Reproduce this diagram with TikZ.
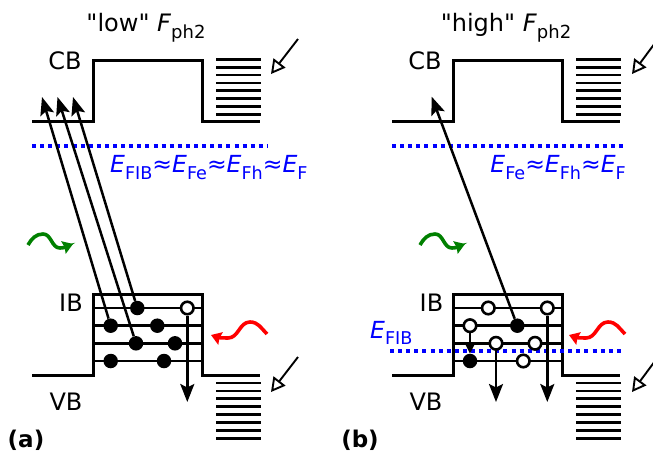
\documentclass[tikz,border=0pt]{standalone}
\usepackage{fontspec}
\usepackage{graphicx}
\newfontfamily\djv{DejaVu Sans}
\usetikzlibrary{arrows.meta}
\newcommand{\lsub}[1]{\raisebox{-0.28em}{\scalebox{0.75}{#1}}}
\definecolor{wgreen}{RGB}{0,128,0}
\begin{document}
\begin{tikzpicture}[x=1pt,y=1pt,
  band/.style={line width=3pt, line join=miter},
  ibline/.style={line width=2.7pt},
  hatch/.style={line width=2.7pt},
  fdot/.style={circle, fill=black, inner sep=0pt, minimum size=14.5pt},
  odot/.style={circle, draw=black, fill=white, line width=2.6pt, inner sep=0pt, minimum size=12.5pt},
  trans/.style={line width=2.5pt, -{Stealth[length=18pt,width=14pt,inset=3.5pt]}},
  smallarr/.style={line width=2.5pt, -{Stealth[length=11pt,width=11pt,inset=2pt]}},
  inarrow/.style={line width=1.9pt, -{Triangle[open,length=14pt,width=15pt]}},
  efl/.style={blue, line width=4pt, dash pattern=on 4pt off 4.1pt},
  wave/.style={line width=3.6pt, -{Stealth[length=10pt,width=13pt,inset=1pt]}},
  lbl/.style={font=\djv\fontsize{24}{28}\selectfont, anchor=base, inner sep=0pt},
  etxt/.style={font=\djv\fontsize{23.5}{28}\selectfont, text=blue, inner sep=0pt},
  plab/.style={font=\djv\bfseries\fontsize{23}{27}\selectfont, anchor=base, inner sep=0pt}
]
\useasboundingbox (0,0) rectangle (653,-451);
\clip (0,0) rectangle (653,-451);

% band structure, both panels
\foreach \s in {0,360}{
  \begin{scope}[xshift=\s pt]
    \draw[band] (32,-121) -- (93,-121) -- (93,-60) -- (202,-60) -- (202,-121) -- (260,-121);
    \draw[band] (32,-375) -- (93,-375) -- (93,-294) -- (202,-294) -- (202,-375) -- (260,-375);
    \foreach \y in {308,325.7,343.3,361} \draw[ibline] (93,-\y) -- (202,-\y);
    \foreach \k in {0,...,7} {
      \draw[hatch] (216,-59.3-7.86*\k) -- (261,-59.3-7.86*\k);
      \draw[hatch] (216,-383-7.9*\k) -- (261,-383-7.9*\k);
    }
  \end{scope}
}

% ---------- panel (a) ----------
\node[lbl] (ttla) at (146,-31.7) {"low" \textit{F}\lsub{ph2}};
\node[lbl] (cba) at (65,-69.3) {CB};
\node[lbl] (iba) at (71,-311.7) {IB};
\node[lbl] (vba) at (66,-410) {VB};
\node[plab] (pa) at (26,-447) {(a)};

\draw[efl] (32,-146) -- (267,-146);
\node[etxt, anchor=base west] (efa) at (110,-172.7)
  {\textit{E}\lsub{FIB}≈\textit{E}\lsub{Fe}≈\textit{E}\lsub{Fh}≈\textit{E}\lsub{F}};

\node[fdot] (a1) at (137.3,-308) {};
\node[fdot] (a2) at (110.7,-325.7) {};
\node[fdot] (a3) at (157.3,-325.7) {};
\node[fdot] (a4) at (136,-343.3) {};
\node[fdot] (a5) at (175,-343.3) {};
\node[fdot] (a6) at (110.7,-361) {};
\node[fdot] (a7) at (164,-361) {};
\node[odot] (ao) at (187.3,-308) {};

\coordinate (ta1) at (42,-97);
\coordinate (ta2) at (57.5,-97);
\coordinate (ta3) at (73,-97);
\coordinate (tad) at (187.3,-402);
\draw[trans] (a2) -- (ta1);
\draw[trans] (a4) -- (ta2);
\draw[trans] (a1) -- (ta3);
\draw[trans] (ao) -- (tad);

\draw[wave, wgreen] (28,-245) to[out=60,in=180] (43,-234) to[out=0,in=180] (60,-248) to[out=0,in=200] (73,-244);
\draw[wave, red] (267,-334) to[out=135,in=0] (250,-322) to[out=180,in=0] (228,-338) to[out=180,in=-20] (211,-335);

\coordinate (ia1s) at (298,-39);  \coordinate (ia1e) at (271,-74);
\coordinate (ia2s) at (298,-357); \coordinate (ia2e) at (271,-392);
\draw[inarrow] (ia1s) -- (ia1e);
\draw[inarrow] (ia2s) -- (ia2e);

% ---------- panel (b) ----------
\node[lbl] (ttlb) at (506,-31.7) {"high" \textit{F}\lsub{ph2}};
\node[lbl] (cbb) at (425,-69.3) {CB};
\node[lbl] (ibb) at (431.5,-311.7) {IB};
\node[lbl] (vbb) at (426,-410) {VB};
\node[plab] (pb) at (360,-447) {(b)};

\draw[efl] (392,-146) -- (625,-146);
\node[etxt, anchor=base east] (efb) at (626,-172.7)
  {\textit{E}\lsub{Fe}≈\textit{E}\lsub{Fh}≈\textit{E}\lsub{F}};

\draw[efl] (390,-351) -- (623,-351);
\node[etxt, anchor=base west] (efib) at (370,-338.3) {\textit{E}\lsub{FIB}};

\node[odot] (b1) at (488.3,-308) {};
\node[odot] (b2) at (547.3,-308) {};
\node[odot] (b3) at (470,-325.7) {};
\node[fdot] (b4) at (517.3,-325.7) {};
\node[odot] (b5) at (496,-343.3) {};
\node[odot] (b6) at (535,-343.3) {};
\node[fdot] (b7) at (470,-361) {};
\node[odot] (b8) at (523.3,-361) {};

\coordinate (tb1) at (431.7,-96.7);
\coordinate (tb2) at (496,-402);
\coordinate (tb3) at (547.3,-402);
\draw[trans] (b4) -- (tb1);
\draw[trans] (b5) -- (tb2);
\draw[trans] (b2) -- (tb3);
\draw[smallarr] (b3) -- (b7);

\draw[wave, wgreen] (420,-245) to[out=60,in=180] (435,-234) to[out=0,in=180] (452,-248) to[out=0,in=200] (465,-244);
\draw[wave, red] (625,-334) to[out=135,in=0] (608,-322) to[out=180,in=0] (586,-338) to[out=180,in=-20] (569,-335);

\coordinate (ib1s) at (658,-39);  \coordinate (ib1e) at (632,-74);
\coordinate (ib2s) at (658,-357); \coordinate (ib2e) at (632,-392);
\draw[inarrow] (ib1s) -- (ib1e);
\draw[inarrow] (ib2s) -- (ib2e);
\end{tikzpicture}
\end{document}
